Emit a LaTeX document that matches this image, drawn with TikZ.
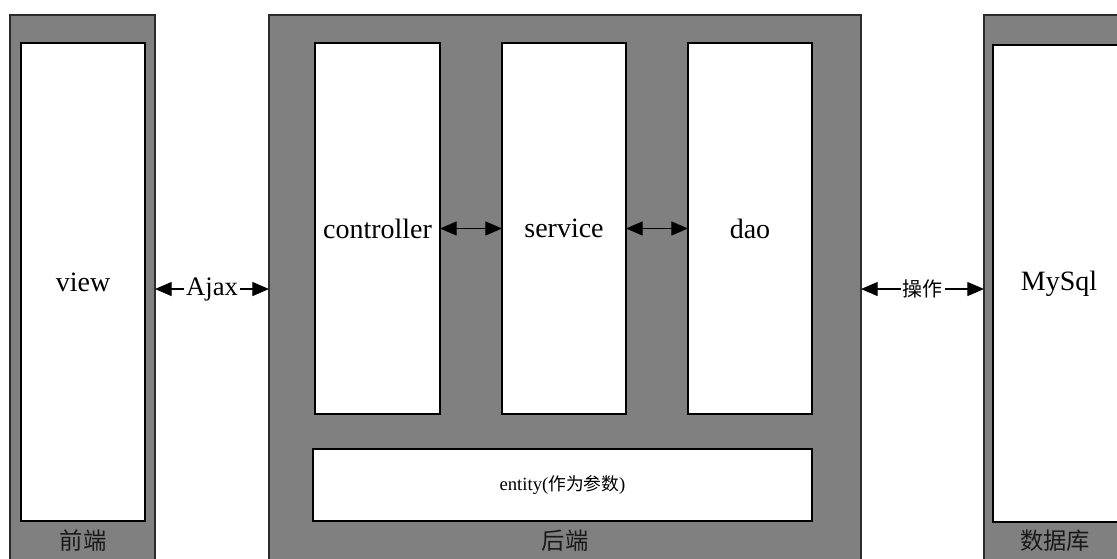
\documentclass[tikz,border=0pt]{standalone}
\usepackage{fontspec}
\setmainfont{Liberation Serif}
\newfontfamily\cjk{Noto Sans CJK SC}
\usetikzlibrary{arrows.meta}
\definecolor{panelgray}{HTML}{808080}
\definecolor{edgegray}{HTML}{2B2B2B}
\tikzset{
  panel/.style={draw=edgegray, fill=panelgray, line width=1.4pt, inner sep=0pt, outer sep=0pt},
  layer/.style={draw=black, fill=white, line width=1.4pt, inner sep=0pt, outer sep=0pt,
    font=\fontsize{21}{25}\selectfont},
  caption/.style={font=\cjk\fontsize{17.5}{20}\selectfont, text=black!90},
  link/.style={line width=0.9pt, {Triangle[length=12.5pt,width=10.5pt]}-{Triangle[length=12.5pt,width=10.5pt]}},
  linklabel/.style={fill=white, inner sep=1.5pt}
}
\begin{document}
\begin{tikzpicture}[x=0.75pt, y=-0.75pt]
  \useasboundingbox (0,0) rectangle (1117,559);
  \clip (0,0) rectangle (1117,559);

  % outer panels: front end, back end, database
  \node[panel, minimum width=145*0.75pt, minimum height=555*0.75pt] (fe) at (82.5,292.5) {};
  \node[panel, minimum width=592*0.75pt, minimum height=555*0.75pt] (be) at (565,292.5) {};
  \node[panel, minimum width=146*0.75pt, minimum height=555*0.75pt] (db) at (1057,292.5) {};

  % inner layers
  \node[layer, minimum width=124*0.75pt, minimum height=478*0.75pt] (view) at (83,282) {view};
  \node[layer, minimum width=125*0.75pt, minimum height=371*0.75pt] (ctrl) at (377.5,228.5) {controller};
  \node[layer, minimum width=124*0.75pt, minimum height=371*0.75pt] (svc) at (564,228.5) {service};
  \node[layer, minimum width=124*0.75pt, minimum height=371*0.75pt] (dao) at (750,228.5) {dao};
  \node[layer, minimum width=499*0.75pt, minimum height=72*0.75pt,
        font=\fontsize{14}{16}\selectfont] (entity) at (562.5,485)
        {entity({\cjk\fontsize{13.3}{16}\selectfont 作为参数})};
  \node[layer, minimum width=132*0.75pt, minimum height=477*0.75pt] (mysql) at (1059,283.5) {MySql};

  % panel captions
  \node[caption] (feCap) at (83,541) {前端};
  \node[caption] (beCap) at (565,541) {后端};
  \node[caption] (dbCap) at (1055,541) {数据库};

  % connectors
  \draw[link] ([yshift=2.6pt]fe.east) -- node[linklabel, font=\fontsize{20}{24}\selectfont] (ajax) {Ajax} ([yshift=2.6pt]be.west);
  \draw[link] ([yshift=2.6pt]be.east) -- node[linklabel, font=\cjk\fontsize{15}{18}\selectfont] (op) {操作} ([yshift=2.6pt]db.west);
  \draw[link] (ctrl.east) -- (svc.west);
  \draw[link] (svc.east) -- (dao.west);
\end{tikzpicture}
\end{document}
